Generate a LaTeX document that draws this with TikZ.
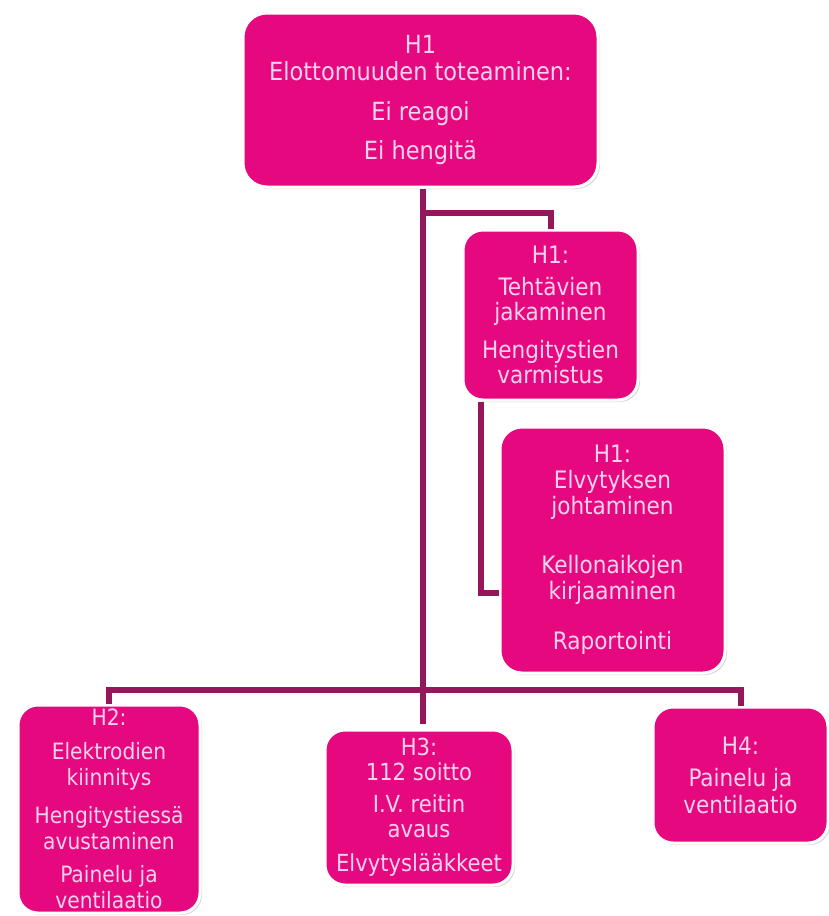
\documentclass[tikz,border=0pt]{standalone}
\usepackage{fontspec}
\setmainfont{DejaVu Sans Condensed}
\usetikzlibrary{calc,shadows}
\definecolor{boxpink}{RGB}{230,8,127}
\definecolor{textpink}{RGB}{250,210,236}
\definecolor{linkplum}{RGB}{150,22,92}
\tikzset{
	hbox/.style={rectangle, rounded corners=24pt, fill=boxpink, draw=white, line width=3pt,
		text=textpink, align=center, inner sep=2pt,
		drop shadow={shadow xshift=2pt, shadow yshift=-2pt, fill=black!30, opacity=.5}},
	hlink/.style={line width=6pt, draw=linkplum}
}
\newcommand{\boxfont}[2]{\fontsize{#1}{#2}\selectfont}

\begin{document}
\begin{tikzpicture}[x=1pt, y=-1pt]
			%%%%% START %%%%%
			\useasboundingbox (0, 0) rectangle (829, 916);
			
			\node[hbox, minimum width=355, minimum height=174, font=\boxfont{25}{27}] (top) at (420.5, 100)
				{H1\\ Elottomuuden toteaminen:\\[13pt] Ei reagoi\\[12pt] Ei hengit\"a};
			
			\node[hbox, minimum width=175, minimum height=170, rounded corners=20pt, font=\boxfont{24}{25}] (tasks) at (550.5, 315)
				{H1:\\[7pt] Teht\"avien\\ jakaminen\\[13pt] Hengitystien\\ varmistus};
			
			\node[hbox, minimum width=225, minimum height=246, rounded corners=22pt, font=\boxfont{24}{26}] (lead) at (612.5, 550)
				{H1:\\ Elvytyksen\\ johtaminen\\[33pt] Kellonaikojen\\ kirjaaminen\\[24pt] Raportointi};
			
			\node[hbox, minimum width=182, minimum height=208, rounded corners=20pt, font=\boxfont{22.5}{26}] (htwo) at (109, 809)
				{H2:\\[8pt] Elektrodien\\ kiinnitys\\[12pt] Hengitystiess\"a\\ avustaminen\\[7pt] Painelu ja\\ ventilaatio};
			
			\node[hbox, minimum width=188, minimum height=155, rounded corners=20pt, font=\boxfont{23.5}{25}] (hthree) at (419, 807.5)
				{H3:\\ 112 soitto\\[7pt] I.V. reitin\\ avaus\\[9pt] Elvytysl\"a\"akkeet};
			
			\node[hbox, minimum width=175, minimum height=136, rounded corners=20pt, font=\boxfont{24}{27}] (hfour) at (740.5, 775)
				{H4:\\[5pt] Painelu ja\\ ventilaatio};
			
			%%%%% LINKS %%%%%
			\coordinate (trunk) at (423, 213);
			\coordinate (bus) at (423, 690);
			
			\draw[hlink, shorten >=5pt] (top.south -| trunk) -- (trunk |- hthree.north);
			\draw[hlink] (trunk) -| (tasks.north);
			\draw[hlink] ($(tasks.south)+(-70, 0)$) |- ($(lead.west)+(0, 43)$);
			\draw[hlink] (htwo.north) -- (htwo.north |- bus) -- (hfour.north |- bus) -- (hfour.north);
			
			%%%%% END %%%%%
\end{tikzpicture}
\end{document}
